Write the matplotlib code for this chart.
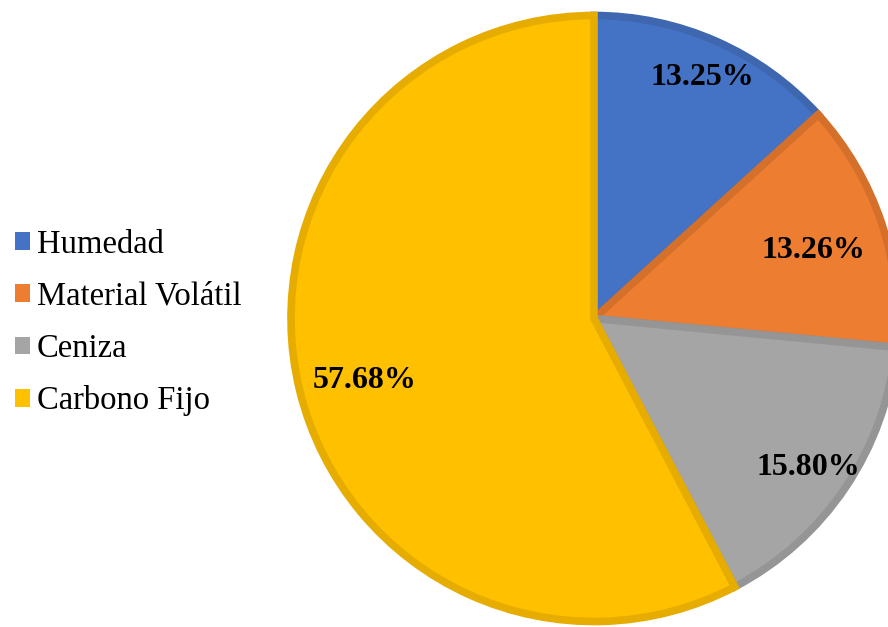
## Grafico de torta: composicion proximal
import matplotlib.pyplot as plt
import numpy as np
from matplotlib.patches import Patch

categorias = ['Humedad', 'Material Volátil', 'Ceniza', 'Carbono Fijo']
valores = [13.25, 13.26, 15.80, 57.68]
etiquetas = ['13.25%', '13.26%', '15.80%', '57.68%']

colores = ['#4472C4', '#ED7D31', '#A5A5A5', '#FFC000']
bordes = ['#3E67B0', '#D5702B', '#959595', '#E6AD00']
# distancia relativa de cada etiqueta al centro
dist = [0.876, 0.755, 0.84, 0.77]

plt.rcParams['font.family'] = ['Liberation Serif', 'DejaVu Serif']

fig = plt.figure(figsize=(8.88, 6.27), dpi=100)
ax = fig.add_axes([0, 0, 1, 1])

cx, cy, r = 594, 308.5, 303
wedges, _ = ax.pie(valores, colors=colores, startangle=90, counterclock=False,
                   center=(cx, cy), radius=r,
                   wedgeprops=dict(linewidth=5.5, joinstyle='miter'))
for w, b in zip(wedges, bordes):
    w.set_edgecolor(b)

ax.set_xlim(0, 888)
ax.set_ylim(0, 627)
ax.set_aspect('equal')
ax.axis('off')

for w, txt, d in zip(wedges, etiquetas, dist):
    ang = np.deg2rad((w.theta1 + w.theta2) / 2)
    ax.text(cx + d * 307 * np.cos(ang), cy + d * 307 * np.sin(ang) - 5, txt,
            ha='center', va='center', fontsize=23, fontweight='bold', color='black')

handles = [Patch(facecolor=c, edgecolor='none') for c in colores]
fig.legend(handles, categorias, loc='center left', bbox_to_anchor=(15 / 888, 0.485),
           frameon=False, fontsize=23.5, handlelength=0.45, handleheight=0.45,
           handletextpad=0.22, labelspacing=0.66, borderpad=0, borderaxespad=0)

plt.savefig('out.png', dpi=100)
plt.close('all')
